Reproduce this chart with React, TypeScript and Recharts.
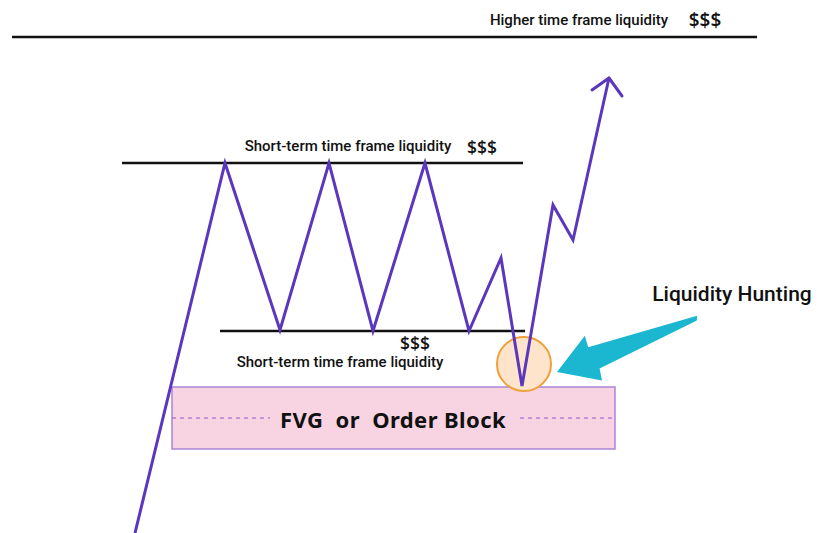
import { LineChart, Line, XAxis, YAxis, ReferenceLine, ReferenceArea, ReferenceDot } from 'recharts';

// price path (x = time, y = price)
const pathX = [135, 225, 280, 329, 373, 425, 469, 501, 522, 553, 573, 609];
const pathY = [0, 370, 203, 370, 202, 370, 202, 275, 147, 328, 293, 455];

// liquidity levels
const higherLevel = 496;
const shortTopLevel = 370;
const shortBottomLevel = 202;

// FVG / order block zone
const zoneLow = 84;
const zoneHigh = 146;
const zoneMid = 115;

// the swept low
const sweepX = 524;
const sweepY = 169;

const labels = {
  higher: 'Higher time frame liquidity',
  shortTerm: 'Short-term time frame liquidity',
  money: '$$$',
  hunting: 'Liquidity Hunting',
  zone: 'FVG  or  Order Block',
};

const W = 817;
const H = 533;
const PURPLE = '#5a37bc';

const data = pathX.map((x, i) => ({ x, y: pathY[i] }));

const textShape = (value: string, size: number, weight: number, family = 'Roboto', extra: any = {}) =>
  (p: any) => (
    <text
      x={p.cx}
      y={p.cy}
      textAnchor="middle"
      dominantBaseline="central"
      fill="#111"
      fontSize={size}
      fontWeight={weight}
      fontFamily={family}
      style={{ whiteSpace: 'pre' }}
      {...extra}
    >
      {value}
    </text>
  );

// tapered arrow drawn between the segment end points (tail -> tip)
const cyanArrow = (p: any) => {
  const { x1, y1, x2, y2 } = p;
  const dx = x1 - x2;
  const dy = y1 - y2;
  const len = Math.sqrt(dx * dx + dy * dy);
  const ux = dx / len;
  const uy = dy / len;
  const nx = -uy;
  const ny = ux;
  const at = (a: number, b: number) => `${x2 + ux * a + nx * b},${y2 + uy * a + ny * b}`;
  const pts = [
    at(0, 0),
    at(39, -24),
    at(38, -12),
    at(len, -2.5),
    at(len - 2, 2),
    at(41, 12),
    at(39, 24),
  ].join(' ');
  return <polygon points={pts} fill="#1bb6cf" stroke="none" />;
};

export default function App() {
  return (
    <div style={{ position: 'absolute', left: 0, top: 0, width: W, height: H, background: '#fff' }}>
      <LineChart width={W} height={H} data={data} margin={{ top: 0, right: 0, bottom: 0, left: 0 }}>
        <XAxis type="number" dataKey="x" domain={[0, W]} hide />
        <YAxis type="number" domain={[0, H]} hide />

        <ReferenceArea x1={172} x2={615} y1={zoneLow} y2={zoneHigh} fill="#f8d3e1" fillOpacity={1} stroke="#a986d8" strokeWidth={1.5} />
        <ReferenceLine segment={[{ x: 172, y: zoneMid }, { x: 270, y: zoneMid }]} stroke="#9b55d0" strokeDasharray="4 4" strokeWidth={1} />
        <ReferenceLine segment={[{ x: 520, y: zoneMid }, { x: 614, y: zoneMid }]} stroke="#9b55d0" strokeDasharray="4 4" strokeWidth={1} />

        <ReferenceLine segment={[{ x: 12, y: higherLevel }, { x: 757, y: higherLevel }]} stroke="#111" strokeWidth={2.5} />
        <ReferenceLine segment={[{ x: 122, y: shortTopLevel }, { x: 523, y: shortTopLevel }]} stroke="#111" strokeWidth={2.5} />
        <ReferenceLine segment={[{ x: 220, y: shortBottomLevel }, { x: 525, y: shortBottomLevel }]} stroke="#111" strokeWidth={2.5} />

        <ReferenceDot
          x={sweepX}
          y={sweepY}
          r={27}
          fill="#fde4ca"
          fillOpacity={1}
          stroke="#eea03a"
          strokeWidth={2}
          {...({ zIndex: 350 } as any)}
        />

        <ReferenceLine segment={[{ x: 698, y: 215 }, { x: 557, y: 161 }]} shape={cyanArrow} />

        <Line
          type="linear"
          dataKey="y"
          stroke={PURPLE}
          strokeWidth={3}
          strokeLinejoin="miter"
          dot={false}
          activeDot={false}
          isAnimationActive={false}
        />
        <ReferenceLine segment={[{ x: 592, y: 443 }, { x: 609, y: 455 }]} stroke={PURPLE} strokeWidth={3} strokeLinecap="round" />
        <ReferenceLine segment={[{ x: 609, y: 455 }, { x: 622, y: 437 }]} stroke={PURPLE} strokeWidth={3} strokeLinecap="round" />

        <ReferenceDot x={579} y={513} r={0} shape={textShape(labels.higher, 15, 500)} />
        <ReferenceDot x={705} y={513} r={0} shape={textShape(labels.money, 19, 600, 'Open Sans')} />
        <ReferenceDot x={348} y={387} r={0} shape={textShape(labels.shortTerm, 15, 500)} />
        <ReferenceDot x={482} y={386} r={0} shape={textShape(labels.money, 17.5, 600, 'Open Sans')} />
        <ReferenceDot x={415} y={190} r={0} shape={textShape(labels.money, 17.5, 600, 'Open Sans')} />
        <ReferenceDot x={340} y={171} r={0} shape={textShape(labels.shortTerm, 15, 500)} />
        <ReferenceDot x={732} y={239} r={0} shape={textShape(labels.hunting, 21, 500)} />
        <ReferenceDot x={393} y={114} r={0} shape={textShape(labels.zone, 22, 700, 'Noto Sans', { letterSpacing: 0.4 })} />
      </LineChart>
    </div>
  );
}
